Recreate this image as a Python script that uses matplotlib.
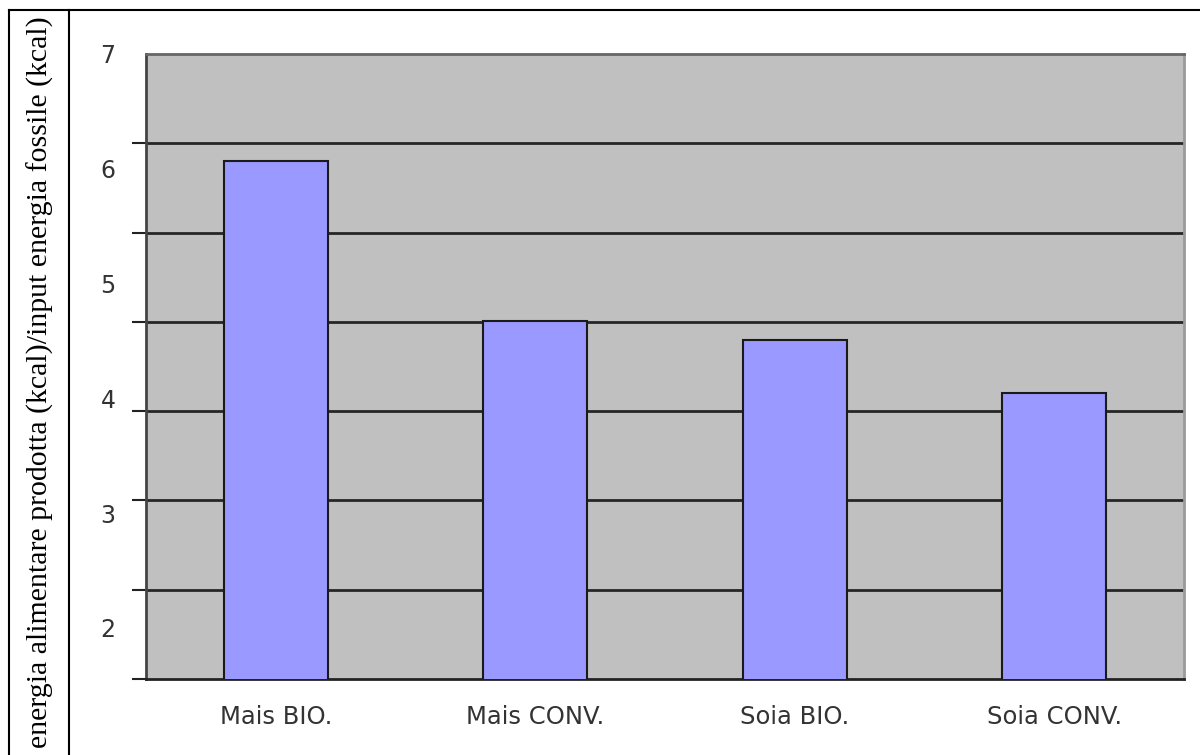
import numpy as np
import matplotlib.pyplot as plt
from matplotlib.lines import Line2D

# data (in y-label units)
categories = ["Mais BIO.", "Mais CONV.", "Soia BIO.", "Soia CONV."]
values = [6.07, 4.67, 4.51, 4.05]
label_ticks = [2, 3, 4, 5, 6, 7]
grid_step = 7 / 9
y_min, y_max = 14 / 9, 7.0
y_label = "energia alimentare prodotta (kcal)/input energia fossile (kcal)"

fig = plt.figure(figsize=(12, 7.55), dpi=100)
ax = fig.add_axes([0.1217, 0.1007, 0.865, 0.8278])

x = np.arange(len(categories))
ax.bar(x, values, width=0.4, color="#9999FF", edgecolor="#1a1a1a",
       linewidth=1.5, zorder=3, bottom=0)
ax.set_facecolor("#C0C0C0")
ax.set_xlim(-0.5, len(categories) - 0.5)
ax.set_ylim(y_min, y_max)

# gridlines + tick marks at the 7/9 step, labels at integers
grid_pos = y_min + grid_step * np.arange(8)
ax.set_yticks(grid_pos, minor=True)
ax.set_yticks(label_ticks)
ax.set_yticklabels([str(v) for v in label_ticks], fontsize=17, color="#333333")
ax.tick_params(axis="y", which="major", length=0, pad=22)
ax.tick_params(axis="y", which="minor", length=10, width=1.5, color="#222222")
for g in grid_pos[1:-1]:
    ax.axhline(g, color="#262626", linewidth=2, zorder=1)

ax.set_xticks(x)
ax.set_xticklabels(categories, fontsize=17.5, color="#333333")
ax.tick_params(axis="x", length=0, pad=19)

ax.spines["left"].set_color("#444444")
ax.spines["left"].set_linewidth(2)
ax.spines["bottom"].set_color("#222222")
ax.spines["bottom"].set_linewidth(2)
ax.spines["top"].set_color("#666666")
ax.spines["top"].set_linewidth(2)
ax.spines["right"].set_color("#999999")
ax.spines["right"].set_linewidth(2)

# table-like frame around the chart
W, H = 1200, 755
lw = 1.5
fig.add_artist(Line2D([9 / W, 1.0], [1 - 10 / H, 1 - 10 / H], color="black", lw=lw))
fig.add_artist(Line2D([9 / W, 9 / W], [0, 1 - 10 / H], color="black", lw=lw))
fig.add_artist(Line2D([69 / W, 69 / W], [0, 1 - 10 / H], color="black", lw=lw))

fig.text(40 / W, 0.5 * (1 - 10 / H) + 0.5 / H * 0, y_label, rotation=90,
         ha="center", va="center", fontsize=21.5, family="Liberation Serif")

fig.savefig("out.png", dpi=100)
